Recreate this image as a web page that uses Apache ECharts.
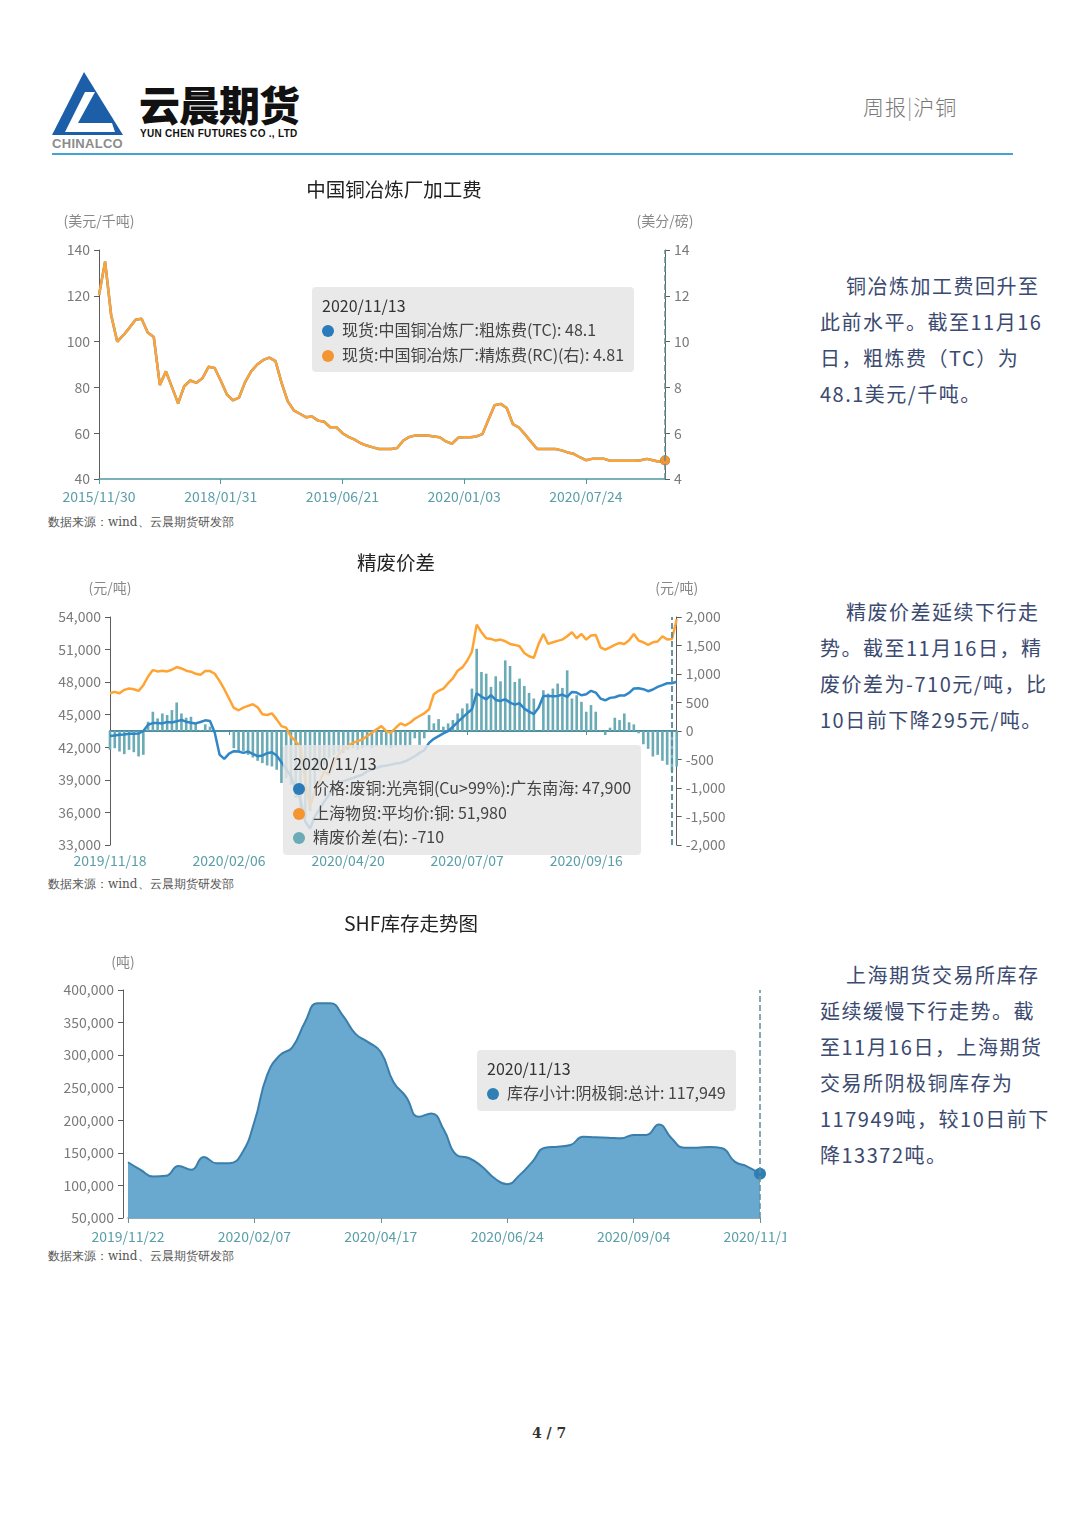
<!DOCTYPE html>
<html>
<head>
<meta charset="utf-8">
<title>周报|沪铜</title>
<script src="https://cdn.jsdelivr.net/npm/echarts@6/dist/echarts.min.js"></script>
<style>
body { margin: 0; background: #fff; }
#page { position: relative; width: 1080px; height: 1526px; overflow: hidden; font-family: "Noto Sans CJK SC", "Noto Sans", sans-serif; }
.abs { position: absolute; white-space: nowrap; }
.chart { position: absolute; left: 0; }
#chart1 { top: 170px; width: 760px; height: 345px; }
#chart2 { top: 545px; width: 760px; height: 330px; }
#chart3 { top: 905px; width: 786px; height: 342px; overflow: hidden; }
.src { position: absolute; left: 48px; font-family: "DejaVu Serif", serif; font-size: 12px; line-height: 14px; color: #555; }
.note { position: absolute; left: 820px; width: 250px; font-size: 20px; line-height: 36px; color: #3b4a70; letter-spacing: 1.5px; }
.note div { white-space: nowrap; }
.note div:first-child { text-indent: 26px; }
</style>
</head>
<body>
<div id="page">
  <!-- 页眉 -->
  <svg class="abs" style="left:50px;top:68px" width="80" height="70">
    <polygon points="34,4 73,67 2,67" fill="#1d5ea9"/>
    <polygon points="35,24 45,24 28,55 62,55 65,64 15,64" fill="#fff"/>
  </svg>
  <div class="abs" style="left:52px;top:136px;font:bold 13px 'Liberation Sans',sans-serif;color:#8c8c8c;letter-spacing:0.3px">CHINALCO</div>
  <div class="abs" style="left:139px;top:80px;font-size:41px;line-height:46px;font-weight:900;color:#111;letter-spacing:-1px">云晨期货</div>
  <div class="abs" style="left:140px;top:128px;font:bold 10px 'Liberation Sans',sans-serif;color:#111;letter-spacing:0.3px">YUN CHEN FUTURES CO ., LTD</div>
  <div class="abs" style="left:863px;top:93px;font-size:21px;line-height:26px;color:#777;font-weight:300;letter-spacing:1px">周报<span style="color:#999">|</span>沪铜</div>
  <div class="abs" style="left:52px;top:153px;width:961px;height:2px;background:#45a3d4"></div>

  <div id="chart1" class="chart"></div>
  <div class="src" style="top:515px">数据来源：wind、云晨期货研发部</div>
  <div id="chart2" class="chart"></div>
  <div class="src" style="top:877px">数据来源：wind、云晨期货研发部</div>
  <div id="chart3" class="chart"></div>
  <div class="src" style="top:1249px">数据来源：wind、云晨期货研发部</div>

  <div class="note" style="top:268px">
    <div>铜冶炼加工费回升至</div>
    <div>此前水平。截至11月16</div>
    <div>日，粗炼费（TC）为</div>
    <div>48.1美元/千吨。</div>
  </div>
  <div class="note" style="top:594px">
    <div>精废价差延续下行走</div>
    <div>势。截至11月16日，精</div>
    <div>废价差为-710元/吨，比</div>
    <div>10日前下降295元/吨。</div>
  </div>
  <div class="note" style="top:957px">
    <div>上海期货交易所库存</div>
    <div>延续缓慢下行走势。截</div>
    <div>至11月16日，上海期货</div>
    <div>交易所阴极铜库存为</div>
    <div>117949吨，较10日前下</div>
    <div>降13372吨。</div>
  </div>

  <div class="abs" style="left:532px;top:1425px;font:bold 14px 'DejaVu Serif',serif;color:#333">4 / 7</div>
</div>

<script>
var FONT = '"Noto Sans CJK SC", "Noto Sans", sans-serif';
var AXIS_GRAY = '#5c5c5c';
var LABEL_GRAY = '#7a7a7a';
var LABEL_TEAL = '#5a9ea8';
var tipDate = '2020/11/13';

// 图1 加工费
var tcDates = ['2015/11/30','2016/01/29','2016/03/31','2016/05/31','2016/06/30','2016/07/29','2016/08/31','2016/09/30','2016/10/31','2016/11/30','2016/12/30',
  '2017/02/28','2017/03/31','2017/04/28','2017/05/31','2017/06/30','2017/07/31','2017/08/31','2017/10/31','2017/12/29','2018/01/31',
  '2018/02/28','2018/03/30','2018/04/27','2018/05/31','2018/06/29','2018/07/31','2018/08/31','2018/09/28','2018/10/31','2018/11/30','2018/12/28',
  '2019/01/25','2019/02/22','2019/03/22','2019/04/19','2019/05/10','2019/05/24','2019/05/31','2019/06/14','2019/06/21',
  '2019/06/28','2019/07/12','2019/07/26','2019/08/09','2019/08/23','2019/08/30','2019/09/06','2019/09/20','2019/09/27','2019/10/11',
  '2019/10/18','2019/10/25','2019/11/01','2019/11/08','2019/11/15','2019/11/22','2019/11/29','2019/12/06','2019/12/20','2020/01/03',
  '2020/01/10','2020/01/17','2020/02/07','2020/02/14','2020/02/21','2020/03/06','2020/03/13','2020/03/20','2020/04/03','2020/04/10',
  '2020/04/17','2020/04/30','2020/05/15','2020/05/22','2020/06/05','2020/06/12','2020/06/24','2020/07/03','2020/07/17','2020/07/24',
  '2020/07/31','2020/08/07','2020/08/14','2020/08/21','2020/08/28','2020/09/04','2020/09/11','2020/09/18','2020/09/25','2020/10/16',
  '2020/10/23','2020/11/06','2020/11/13'];
var tcValues = [120.3,134.9,111.5,100,102.8,106,109.5,110,104,102,
  81,87,80,73,80.5,83,82,84,89,88.5,
  83,77,74.3,75.5,82.3,87,90,92,93,91.5,
  82,74,70,68.5,67,67.3,65.5,65,62.6,62.6,
  60,58.4,57.2,55.6,54.6,53.8,53.1,53.1,53.1,53.5,
  56.8,58.4,59,59,59,58.6,58.2,56.4,55.4,58,
  58.2,58.2,58.6,59.6,66,72.2,72.8,71,64,62.5,
  59.5,56.2,53.1,53.1,53.1,53.1,52.5,51.6,51,49.5,
  48.2,48.8,48.8,48.8,48,48,48,48,48,48.2,
  48.8,48.2,47.5,48.1];
var rcValues = [12.03,13.49,11.15,10,10.28,10.6,10.95,11,10.4,10.2,
  8.1,8.7,8,7.3,8.05,8.3,8.2,8.4,8.9,8.85,
  8.3,7.7,7.43,7.55,8.23,8.7,9,9.2,9.3,9.15,
  8.2,7.4,7,6.85,6.7,6.73,6.55,6.5,6.26,6.26,
  6,5.84,5.72,5.56,5.46,5.38,5.31,5.31,5.31,5.35,
  5.68,5.84,5.9,5.9,5.9,5.86,5.82,5.64,5.54,5.8,
  5.82,5.82,5.86,5.96,6.6,7.22,7.28,7.1,6.4,6.25,
  5.95,5.62,5.31,5.31,5.31,5.31,5.25,5.16,5.1,4.95,
  4.82,4.88,4.88,4.88,4.8,4.8,4.8,4.8,4.8,4.82,
  4.88,4.82,4.75,4.81];

// 图2 精废价差
var spreadDates = ['2019/11/18','2019/11/20','2019/11/22','2019/11/26','2019/11/28','2019/12/02','2019/12/04','2019/12/06','2019/12/10','2019/12/12',
  '2019/12/16','2019/12/18','2019/12/20','2019/12/24','2019/12/26','2019/12/30','2020/01/03','2020/01/07','2020/01/09','2020/01/13',
  '2020/01/15','2020/01/17','2020/01/21','2020/01/23','2020/02/04','2020/02/06','2020/02/10','2020/02/12','2020/02/14','2020/02/18',
  '2020/02/20','2020/02/24','2020/02/26','2020/02/28','2020/03/03','2020/03/05','2020/03/09','2020/03/11','2020/03/13','2020/03/17',
  '2020/03/19','2020/03/23','2020/03/25','2020/03/27','2020/03/31','2020/04/02','2020/04/07','2020/04/09','2020/04/13','2020/04/15',
  '2020/04/20','2020/04/22','2020/04/24','2020/04/28','2020/04/30','2020/05/07','2020/05/11','2020/05/13','2020/05/15','2020/05/19',
  '2020/05/21','2020/05/25','2020/05/27','2020/05/29','2020/06/02','2020/06/04','2020/06/08','2020/06/10','2020/06/12','2020/06/16',
  '2020/06/18','2020/06/22','2020/06/24','2020/06/30','2020/07/02','2020/07/07','2020/07/09','2020/07/13','2020/07/15','2020/07/17',
  '2020/07/21','2020/07/23','2020/07/27','2020/07/29','2020/07/31','2020/08/04','2020/08/06','2020/08/10','2020/08/12','2020/08/14',
  '2020/08/18','2020/08/20','2020/08/24','2020/08/26','2020/08/28','2020/09/01','2020/09/03','2020/09/07','2020/09/09','2020/09/11',
  '2020/09/16','2020/09/18','2020/09/22','2020/09/24','2020/09/28','2020/09/30','2020/10/09','2020/10/13','2020/10/15','2020/10/19',
  '2020/10/21','2020/10/23','2020/10/27','2020/10/29','2020/11/02','2020/11/04','2020/11/06','2020/11/10','2020/11/13','2020/11/16'];
var scrapValues = [43030,43090,43150,43180,43245,43245,43275,43490,44080,44230,
  44230,44200,44325,44290,44390,44510,44360,44260,44200,44325,
  44480,44420,43340,41330,40930,41420,41640,41610,41485,41610,
  41390,41175,41240,41455,41545,41240,40620,40000,39330,38090,
  37160,35160,34500,35620,36300,37010,37630,38245,38650,38860,
  39015,39170,39330,39480,39790,39940,40100,40250,40310,40405,
  40500,40560,40710,40930,41175,41485,41730,42410,42780,43030,
  43275,43490,43890,44325,44725,45130,45500,46980,46670,46420,
  46795,46360,46270,46420,46115,45930,46050,45560,45280,45065,
  45650,46730,46730,46700,46730,46855,46640,47100,47040,46795,
  46890,47200,47040,46485,46330,46550,46610,46765,46765,47010,
  47410,47440,47350,47165,47320,47570,47720,47900,47900,48030];
var refinedValues = [46980,47100,46980,47290,47410,47350,47200,47720,48520,49110,
  48990,49050,48990,49140,49390,49260,49050,48960,48770,48680,
  49020,49020,48770,48120,47350,46490,45620,45410,45650,45810,
  45960,45680,45040,44970,45130,44570,43950,43800,42970,42565,
  41950,39015,36500,37935,38860,39790,39480,40560,41330,41790,
  42100,42410,42565,42720,43030,43340,43650,43950,43490,43340,
  43800,44200,44020,44260,44630,44880,45130,45500,46890,47200,
  47410,47900,48340,49050,49360,49970,50800,53300,52600,52040,
  51980,51830,51920,51770,51520,51430,51300,50690,50380,50250,
  51500,52440,51520,51670,51800,51920,52230,52600,52040,52440,
  51920,52290,52350,51210,50990,51210,51430,51610,51520,51860,
  52440,51830,51670,51430,51670,51740,52230,51920,51980,53800];
var spreadValues = [-331,-302,-360,-406,-331,-372,-447,-418,163,338,
  221,308,280,367,500,308,233,250,134,17,
  117,76,null,null,null,null,-302,-372,-349,-418,
  -465,-523,-563,-604,-622,-680,-912,-825,-941,-1174,
  -1406,-1523,-1406,-941,-709,-593,-476,-418,-360,-389,
  -331,-302,-331,-302,-273,-302,-273,-244,-273,-302,
  -273,-244,-273,-244,-128,-244,-128,279,134,209,
  76,134,192,308,396,483,744,1442,1035,1006,
  774,960,872,1239,1140,861,919,791,669,570,
  null,715,657,745,832,756,1064,570,628,512,
  338,454,338,10,-70,58,233,192,308,152,
  117,-40,-232,-313,-447,-418,-523,-593,-710,-620];

// 图3 SHF库存
var stockDates = ['2019/11/22','2019/11/29','2019/12/06','2019/12/13','2019/12/20','2019/12/27','2020/01/03','2020/01/10','2020/01/17','2020/01/23',
  '2020/02/07','2020/02/14','2020/02/21','2020/02/28','2020/03/06','2020/03/13','2020/03/20','2020/03/27','2020/04/03','2020/04/10',
  '2020/04/17','2020/04/24','2020/04/30','2020/05/08','2020/05/15','2020/05/22','2020/05/29','2020/06/05','2020/06/12','2020/06/19',
  '2020/06/24','2020/07/03','2020/07/10','2020/07/17','2020/07/24','2020/07/31','2020/08/07','2020/08/14','2020/08/21','2020/08/28',
  '2020/09/04','2020/09/11','2020/09/18','2020/09/25','2020/09/30','2020/10/09','2020/10/16','2020/10/23','2020/10/30','2020/11/06',
  '2020/11/13'];
var stockValues = [135600,123900,113700,114700,130000,123900,143700,134000,134000,149000,
  197700,269000,299600,312000,350600,379600,379600,360700,332700,320000,
  304700,258900,236000,205400,210500,185000,146800,141700,129000,111000,
  102000,116200,136600,158000,159500,162000,174800,173800,173300,172300,
  177400,177400,193700,172300,158000,158000,159000,157000,136600,129000,
  117949];

function fmt(v) {
  return typeof v === 'number' ? v.toLocaleString('en-US') : v;
}

function tipFormatter(params) {
  var html = '<div style="font-size:16px;line-height:24px;color:#333">' + params[0].axisValue + '</div>';
  params.forEach(function (p) {
    html += '<div style="font-size:16px;line-height:24.5px;color:#444">' +
      '<span style="display:inline-block;width:12px;height:12px;border-radius:50%;background:' + p.color +
      ';margin-right:8px;vertical-align:-1px"></span>' + p.seriesName + ': ' + fmt(p.value) + '</div>';
  });
  return html;
}

function tooltipAt(pos) {
  return {
    trigger: 'axis',
    triggerOn: 'none',
    alwaysShowContent: true,
    position: pos,
    transitionDuration: 0,
    backgroundColor: 'rgba(229,229,229,0.85)',
    borderWidth: 0,
    padding: [6, 10],
    extraCssText: 'box-shadow:none;border-radius:4px;',
    axisPointer: { type: 'line', lineStyle: { color: '#5f8f99', type: 'dashed', width: 1.5 } },
    formatter: tipFormatter
  };
}

function titleText(text, x, y) {
  return {
    type: 'text', x: x, y: y, silent: true,
    style: { text: text, textAlign: 'center', textVerticalAlign: 'middle', font: '19.5px ' + FONT, fill: '#222' }
  };
}

function valueAxis(opt) {
  var axis = {
    type: 'value',
    nameGap: 22,
    nameTextStyle: { color: '#888', fontSize: 14 },
    axisLine: { show: true, lineStyle: { color: AXIS_GRAY } },
    axisTick: { show: true, length: 5, lineStyle: { color: AXIS_GRAY } },
    axisLabel: { color: LABEL_GRAY, fontSize: 14, margin: 9, formatter: function (v) { return fmt(v); } },
    splitLine: { show: false }
  };
  for (var k in opt) axis[k] = opt[k];
  return axis;
}

function catAxis(data, interval, lineColor, margin) {
  return {
    type: 'category', data: data, boundaryGap: false,
    axisLine: { onZero: false, lineStyle: { color: lineColor, width: 1.5 } },
    axisTick: { interval: interval, length: 5, lineStyle: { color: lineColor } },
    axisLabel: { interval: interval, color: LABEL_TEAL, fontSize: 14, margin: margin }
  };
}

// ---------- 图1 ----------
var chart1 = echarts.init(document.getElementById('chart1'));
chart1.setOption({
  animation: false,
  textStyle: { fontFamily: FONT },
  graphic: [titleText('中国铜冶炼厂加工费', 394, 20)],
  grid: { left: 99, top: 80, width: 566, height: 229, outerBoundsMode: 'none' },
  tooltip: tooltipAt([312, 117]),
  xAxis: catAxis(tcDates, 19, '#4f97a3', 11),
  yAxis: [
    valueAxis({ min: 40, max: 140, interval: 20, name: '(美元/千吨)' }),
    valueAxis({ min: 4, max: 14, interval: 2, name: '(美分/磅)', position: 'right' })
  ],
  series: [
    { name: '现货:中国铜冶炼厂:粗炼费(TC)', type: 'line', data: tcValues, showSymbol: false, symbol: 'circle', symbolSize: 9,
      color: '#2b7bba', lineStyle: { width: 2.5 } },
    { name: '现货:中国铜冶炼厂:精炼费(RC)(右)', type: 'line', yAxisIndex: 1, data: rcValues, showSymbol: false, symbol: 'circle', symbolSize: 9,
      color: '#f39530', lineStyle: { width: 2.5 } }
  ]
});
chart1.dispatchAction({ type: 'showTip', seriesIndex: 0, dataIndex: tcDates.indexOf(tipDate) });

// ---------- 图2 ----------
var chart2 = echarts.init(document.getElementById('chart2'));
var zeroAxis = catAxis(spreadDates, 24, '#4f8f9c', 10);
zeroAxis.position = 'top';
zeroAxis.axisLine = { onZero: true, onZeroAxisIndex: 1, lineStyle: { color: '#4f8f9c', width: 2 } };
zeroAxis.axisTick = { interval: 24, length: 4, inside: true, lineStyle: { color: '#4f8f9c' } };
zeroAxis.axisLabel = { show: false };
var labelAxis = catAxis(spreadDates, 24, '#4f8f9c', 9);
labelAxis.axisLine = { show: false, onZero: false };
labelAxis.axisTick = { show: false };
chart2.setOption({
  animation: false,
  textStyle: { fontFamily: FONT },
  graphic: [titleText('精废价差', 396, 18)],
  grid: { left: 110, top: 72, width: 566.7, height: 228, outerBoundsMode: 'none' },
  tooltip: tooltipAt([283, 200]),
  xAxis: [labelAxis, zeroAxis],
  yAxis: [
    valueAxis({ min: 33000, max: 54000, interval: 3000, name: '(元/吨)' }),
    valueAxis({ min: -2000, max: 2000, interval: 500, name: '(元/吨)', position: 'right' })
  ],
  series: [
    { name: '价格:废铜:光亮铜(Cu>99%):广东南海', type: 'line', data: scrapValues, showSymbol: false, symbol: 'none',
      color: '#2c7bb6', lineStyle: { width: 2.5 }, z: 4 },
    { name: '上海物贸:平均价:铜', type: 'line', data: refinedValues, showSymbol: false, symbol: 'none',
      color: '#f5952f', lineStyle: { width: 2.5 }, z: 4 },
    { name: '精废价差(右)', type: 'bar', yAxisIndex: 1, data: spreadValues, barWidth: '55%',
      color: '#6aabb6', z: 1 }
  ]
});
chart2.dispatchAction({ type: 'showTip', seriesIndex: 0, dataIndex: spreadDates.indexOf(tipDate) });

// ---------- 图3 ----------
var chart3 = echarts.init(document.getElementById('chart3'));
chart3.setOption({
  animation: false,
  textStyle: { fontFamily: FONT },
  graphic: [titleText('SHF库存走势图', 411, 19)],
  grid: { left: 128, top: 85, width: 632, height: 228, outerBoundsMode: 'none' },
  tooltip: tooltipAt([477, 145]),
  xAxis: catAxis(stockDates, 9, '#6a8f99', 12),
  yAxis: valueAxis({ min: 50000, max: 400000, interval: 50000, name: '(吨)', offset: 5, nameGap: 21 }),
  series: [
    { name: '库存小计:阴极铜:总计', type: 'line', data: stockValues, smooth: true, showSymbol: false, symbol: 'circle', symbolSize: 11,
      color: '#2f7fb5', lineStyle: { width: 2, color: '#35739c' },
      areaStyle: { color: '#6099bd', opacity: 1 } }
  ]
});
chart3.dispatchAction({ type: 'showTip', seriesIndex: 0, dataIndex: stockDates.indexOf(tipDate) });
</script>
</body>
</html>
